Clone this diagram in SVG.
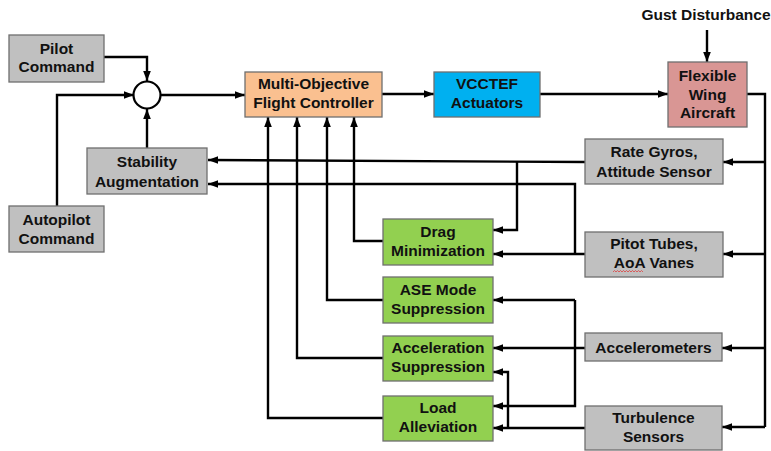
<svg xmlns="http://www.w3.org/2000/svg" width="771" height="451" viewBox="0 0 771 451">
<style>
.t{font-family:"Liberation Sans",Arial,sans-serif;font-weight:bold;font-size:15.5px;fill:#111;text-anchor:middle}
.box{stroke:#6f6f6f;stroke-width:1.3}
.gray{fill:#c0c0c0}.green{fill:#92d050}.orange{fill:#fac090}.blue{fill:#00b0f0}.pink{fill:#d99694}
.c{fill:none;stroke:#000;stroke-width:2.4}
.a{marker-end:url(#ah)}
</style>
<defs>
<marker id="ah" markerUnits="userSpaceOnUse" markerWidth="10" markerHeight="10" viewBox="0 0 10 10" refX="10" refY="5" orient="auto">
<path d="M0,1.2 L10,5 L0,8.8 Z" fill="#000"/>
</marker>
</defs>
<rect width="771" height="451" fill="#fff"/>
<g id="connectors">
<path class="c a" d="M104,57 H147 V81"/>
<path class="c a" d="M57,206 V95 H134"/>
<path class="c a" d="M147,148 V109"/>
<path class="c a" d="M161,95 H245"/>
<path class="c a" d="M382,94 H434"/>
<path class="c a" d="M540,94 H668"/>
<path class="c a" d="M707,30 V62"/>
<path class="c" d="M747,94 H765 V427"/>
<path class="c a" d="M765,162 H723"/>
<path class="c a" d="M765,254 H723"/>
<path class="c a" d="M765,348 H722"/>
<path class="c a" d="M765,427 H722"/>
<path class="c a" d="M585,162 L208,160"/>
<path class="c a" d="M517,162 V230 H493"/>
<path class="c a" d="M585,254 H493"/>
<path class="c a" d="M575,254 V184 H208"/>
<path class="c a" d="M383,241 H354 V117"/>
<path class="c a" d="M383,300 H327 V117"/>
<path class="c a" d="M383,358 H297 V117"/>
<path class="c a" d="M383,418 H268 V117"/>
<path class="c a" d="M585,348 H493"/>
<path class="c a" d="M575,300 H493"/>
<path class="c a" d="M575,300 V406 H493"/>
<path class="c a" d="M585,428 H493"/>
<path class="c a" d="M508,428 V372 H493"/>
</g>
<g id="pilot"><rect class="box gray" x="9" y="35" width="95" height="47"/><text class="t" x="56.5" y="54">Pilot</text><text class="t" x="56.5" y="72">Command</text></g>
<g id="autopilot"><rect class="box gray" x="9" y="206" width="95" height="46"/><text class="t" x="56.5" y="225">Autopilot</text><text class="t" x="56.5" y="244">Command</text></g>
<g id="sum"><circle cx="147" cy="95" r="13.5" fill="#fff" stroke="#000" stroke-width="2.2"/></g>
<g id="stability"><rect class="box gray" x="87" y="148" width="120" height="46"/><text class="t" x="147" y="167">Stability</text><text class="t" x="147" y="187">Augmentation</text></g>
<g id="mofc"><rect class="box orange" x="245" y="72" width="137" height="45"/><text class="t" x="313.5" y="89">Multi-Objective</text><text class="t" x="313.5" y="108">Flight Controller</text></g>
<g id="vcctef"><rect class="box blue" x="434" y="72" width="106" height="45"/><text class="t" x="487" y="89">VCCTEF</text><text class="t" x="487" y="108">Actuators</text></g>
<g id="gust"><text class="t" x="706" y="20">Gust Disturbance</text></g>
<g id="aircraft"><rect class="box pink" x="668" y="62" width="79" height="65"/><text class="t" x="707.5" y="81">Flexible</text><text class="t" x="707.5" y="100">Wing</text><text class="t" x="707.5" y="118">Aircraft</text></g>
<g id="rategyros"><rect class="box gray" x="585" y="139" width="138" height="45"/><text class="t" x="654" y="157">Rate Gyros,</text><text class="t" x="654" y="177">Attitude Sensor</text></g>
<g id="pitot"><rect class="box gray" x="585" y="232" width="138" height="45"/><text class="t" x="654" y="249">Pitot Tubes,</text><text class="t" x="654" y="268">AoA Vanes</text><path d="M613,272 l1.5,-1.5 l1.5,1.5 l1.5,-1.5 l1.5,1.5 l1.5,-1.5 l1.5,1.5 l1.5,-1.5 l1.5,1.5 l1.5,-1.5 l1.5,1.5 l1.5,-1.5 l1.5,1.5 l1.5,-1.5 l1.5,1.5 l1.5,-1.5 l1.5,1.5 l1.5,-1.5 l1.5,1.5 l1.5,-1.5 l1.5,1.5" fill="none" stroke="#e04040" stroke-width="0.8"/></g>
<g id="accelerometers"><rect class="box gray" x="585" y="333" width="137" height="28"/><text class="t" x="653.5" y="353">Accelerometers</text></g>
<g id="turbulence"><rect class="box gray" x="585" y="406" width="137" height="44"/><text class="t" x="653.5" y="423">Turbulence</text><text class="t" x="653.5" y="442">Sensors</text></g>
<g id="drag"><rect class="box green" x="383" y="219" width="110" height="46"/><text class="t" x="438" y="237">Drag</text><text class="t" x="438" y="256">Minimization</text></g>
<g id="ase"><rect class="box green" x="383" y="277" width="110" height="46"/><text class="t" x="438" y="295">ASE Mode</text><text class="t" x="438" y="314">Suppression</text></g>
<g id="accsup"><rect class="box green" x="383" y="336" width="110" height="45"/><text class="t" x="438" y="353">Acceleration</text><text class="t" x="438" y="372">Suppression</text></g>
<g id="load"><rect class="box green" x="383" y="396" width="110" height="45"/><text class="t" x="438" y="413">Load</text><text class="t" x="438" y="432">Alleviation</text></g>
</svg>
